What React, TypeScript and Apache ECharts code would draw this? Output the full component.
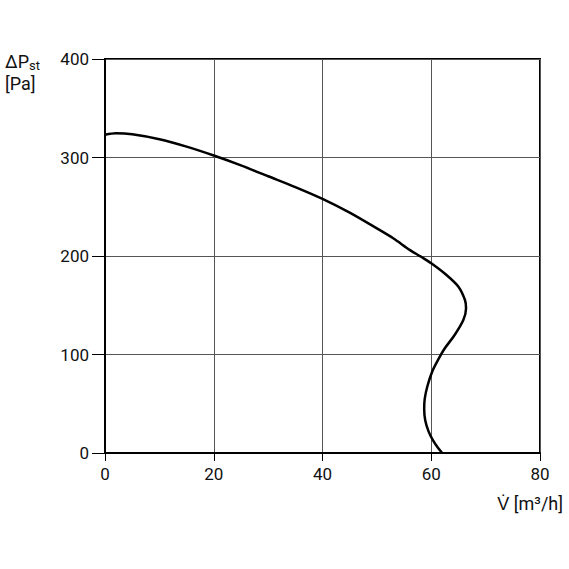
import React, { useEffect, useRef } from "react";
import * as echarts from "echarts";

// fan curve: airflow (m³/h) vs static pressure (Pa)
const flow = [
  0, 2, 5, 10, 15, 20, 25, 30, 35, 40, 45, 50, 53, 56.1, 58.2, 60, 62.8, 65, 66.2, 66.4,
  65.9, 64.3, 62.5, 61.3, 60.2, 59.3, 58.8, 58.7, 58.9, 59.5, 60.3, 61.2, 62,
];
const pressure = [
  323, 324.5, 323.5, 318.5, 311, 302, 292, 281, 270, 258, 244, 228, 218, 206, 199, 192.6, 180.7, 168.8, 155.3, 147,
  135, 119.8, 106.3, 95, 83, 68, 55, 45, 33, 22, 13, 5.5, 0,
];

const xTicks = [0, 20, 40, 60, 80];
const yTicks = [0, 100, 200, 300, 400];

const FONT = "Roboto, 'Liberation Sans', sans-serif";

const FanCurve: React.FC = () => {
  const chartRef = useRef<HTMLDivElement | null>(null);

  useEffect(() => {
    if (!chartRef.current) return;
    const chart = echarts.init(chartRef.current, undefined, { renderer: "svg" });

    const option = {
      animation: false,
      backgroundColor: "#fff",
      grid: {
        left: 105,
        top: 59,
        right: 29,
        bottom: 116,
        show: true,
        borderColor: "#000",
        borderWidth: 2,
      },
      xAxis: {
        type: "value",
        min: xTicks[0],
        max: xTicks[xTicks.length - 1],
        interval: 20,
        axisLine: { show: true, lineStyle: { color: "#000", width: 2 } },
        axisTick: { show: true, length: 8, lineStyle: { color: "#000", width: 1 } },
        axisLabel: { color: "#111", fontSize: 17, fontFamily: FONT, margin: 12 },
        splitLine: { show: true, lineStyle: { color: "#555", width: 1 } },
      },
      yAxis: {
        type: "value",
        min: yTicks[0],
        max: yTicks[yTicks.length - 1],
        interval: 100,
        axisLine: { show: true, lineStyle: { color: "#000", width: 2 } },
        axisTick: { show: true, length: 13, lineStyle: { color: "#000", width: 1 } },
        axisLabel: { color: "#111", fontSize: 17, fontFamily: FONT, margin: 16 },
        splitLine: { show: true, lineStyle: { color: "#555", width: 1 } },
      },
      series: [
        {
          type: "line",
          data: flow.map((f, i) => [f, pressure[i]]),
          smooth: 0.3,
          showSymbol: false,
          lineStyle: { color: "#000", width: 2.5 },
        },
      ],
      graphic: [
        {
          type: "text",
          left: 5,
          top: 52,
          style: {
            text: "{a|ΔP}{b|st}",
            rich: {
              a: { fontSize: 18, fontFamily: FONT, fill: "#111" },
              b: { fontSize: 13, fontFamily: FONT, fill: "#111", padding: [8, 0, 0, 0] },
            },
          },
        },
        {
          type: "text",
          left: 5,
          top: 74,
          style: { text: "[Pa]", fontSize: 18, fontFamily: FONT, fill: "#111" },
        },
        {
          type: "text",
          right: 6,
          top: 494,
          style: { text: "V̇ [m³/h]", fontSize: 18, fontFamily: FONT, fill: "#111" },
        },
      ],
    };

    chart.setOption(option);
    return () => chart.dispose();
  }, []);

  return (
    <div
      ref={chartRef}
      style={{ position: "absolute", left: 0, top: 0, width: 569, height: 569 }}
    />
  );
};

export default FanCurve;
